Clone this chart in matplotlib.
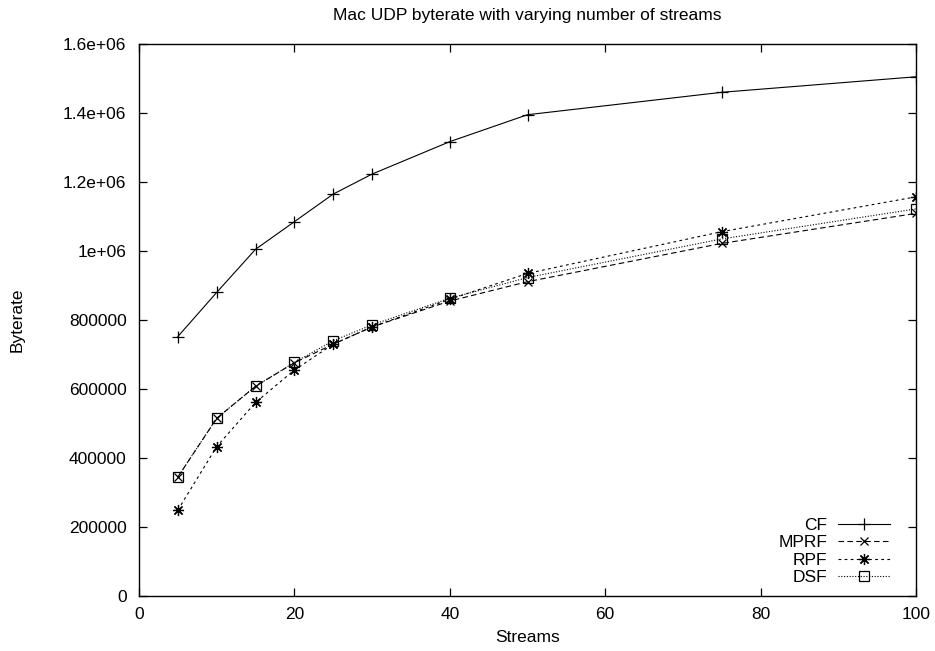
import matplotlib
matplotlib.use("Agg")
import matplotlib.pyplot as plt

plt.rcParams['font.family'] = ['Liberation Sans', 'DejaVu Sans']

streams = [5, 10, 15, 20, 25, 30, 40, 50, 75, 100]
cf   = [752000, 880000, 1005000, 1085000, 1165000, 1223000, 1317000, 1395000, 1460000, 1505000]
mprf = [345000, 515000, 608000, 676000, 730000, 780000, 855000, 911000, 1022000, 1109000]
rpf  = [249000, 433000, 561000, 655000, 730000, 780000, 860000, 935000, 1056000, 1157000]
dsf  = [345000, 515000, 608000, 677000, 740000, 786000, 863000, 923000, 1035000, 1122000]

fs = 12.5
fig = plt.figure(figsize=(9.35, 6.51), dpi=100)
ax = fig.add_axes([139/935, 1-596/651, (916-139)/935, (596-44)/651])

lw = 0.8
ax.plot(streams, cf, color='black', lw=lw, marker='+', ms=8, mew=0.9, label='CF')
ax.plot(streams, mprf, color='black', lw=lw, dashes=(5, 3), marker='x', ms=6, mew=0.9, label='MPRF')
ax.plot(streams, rpf, color='black', lw=lw, dashes=(2.5, 3), marker=(8, 2, 0), ms=8, mew=0.9, label='RPF')
ax.plot(streams, dsf, color='black', lw=lw, dashes=(1, 1.5), marker='s', ms=7, mew=0.9,
        markerfacecolor='none', label='DSF')

ax.set_xlim(0, 100)
ax.set_ylim(0, 1.6e6)
ax.set_xticks([0, 20, 40, 60, 80, 100])
yticks = [0, 200000, 400000, 600000, 800000, 1000000, 1200000, 1400000, 1600000]
ytick_labels = ['0', '200000', '400000', '600000', '800000', '1e+06', '1.2e+06', '1.4e+06', '1.6e+06']
ax.set_yticks(yticks)
ax.set_yticklabels(ytick_labels)
ax.tick_params(direction='in', top=True, right=True, length=6, width=0.9, labelsize=fs)
ax.tick_params(axis='y', pad=9)
ax.tick_params(axis='x', pad=8)
for s in ax.spines.values():
    s.set_linewidth(1.0)

ax.set_title('Mac UDP byterate with varying number of streams', fontsize=fs, pad=17)
ax.set_xlabel('Streams', fontsize=fs, labelpad=6)
ax.set_ylabel('Byterate', fontsize=fs, labelpad=28)

leg = ax.legend(loc='lower right', bbox_to_anchor=((890-139)/777, (596-585)/552),
                frameon=False, markerfirst=False, fontsize=fs,
                handlelength=3.0, labelspacing=0.13, borderaxespad=0, borderpad=0,
                handletextpad=0.6)

fig.savefig('out.png', dpi=100)
